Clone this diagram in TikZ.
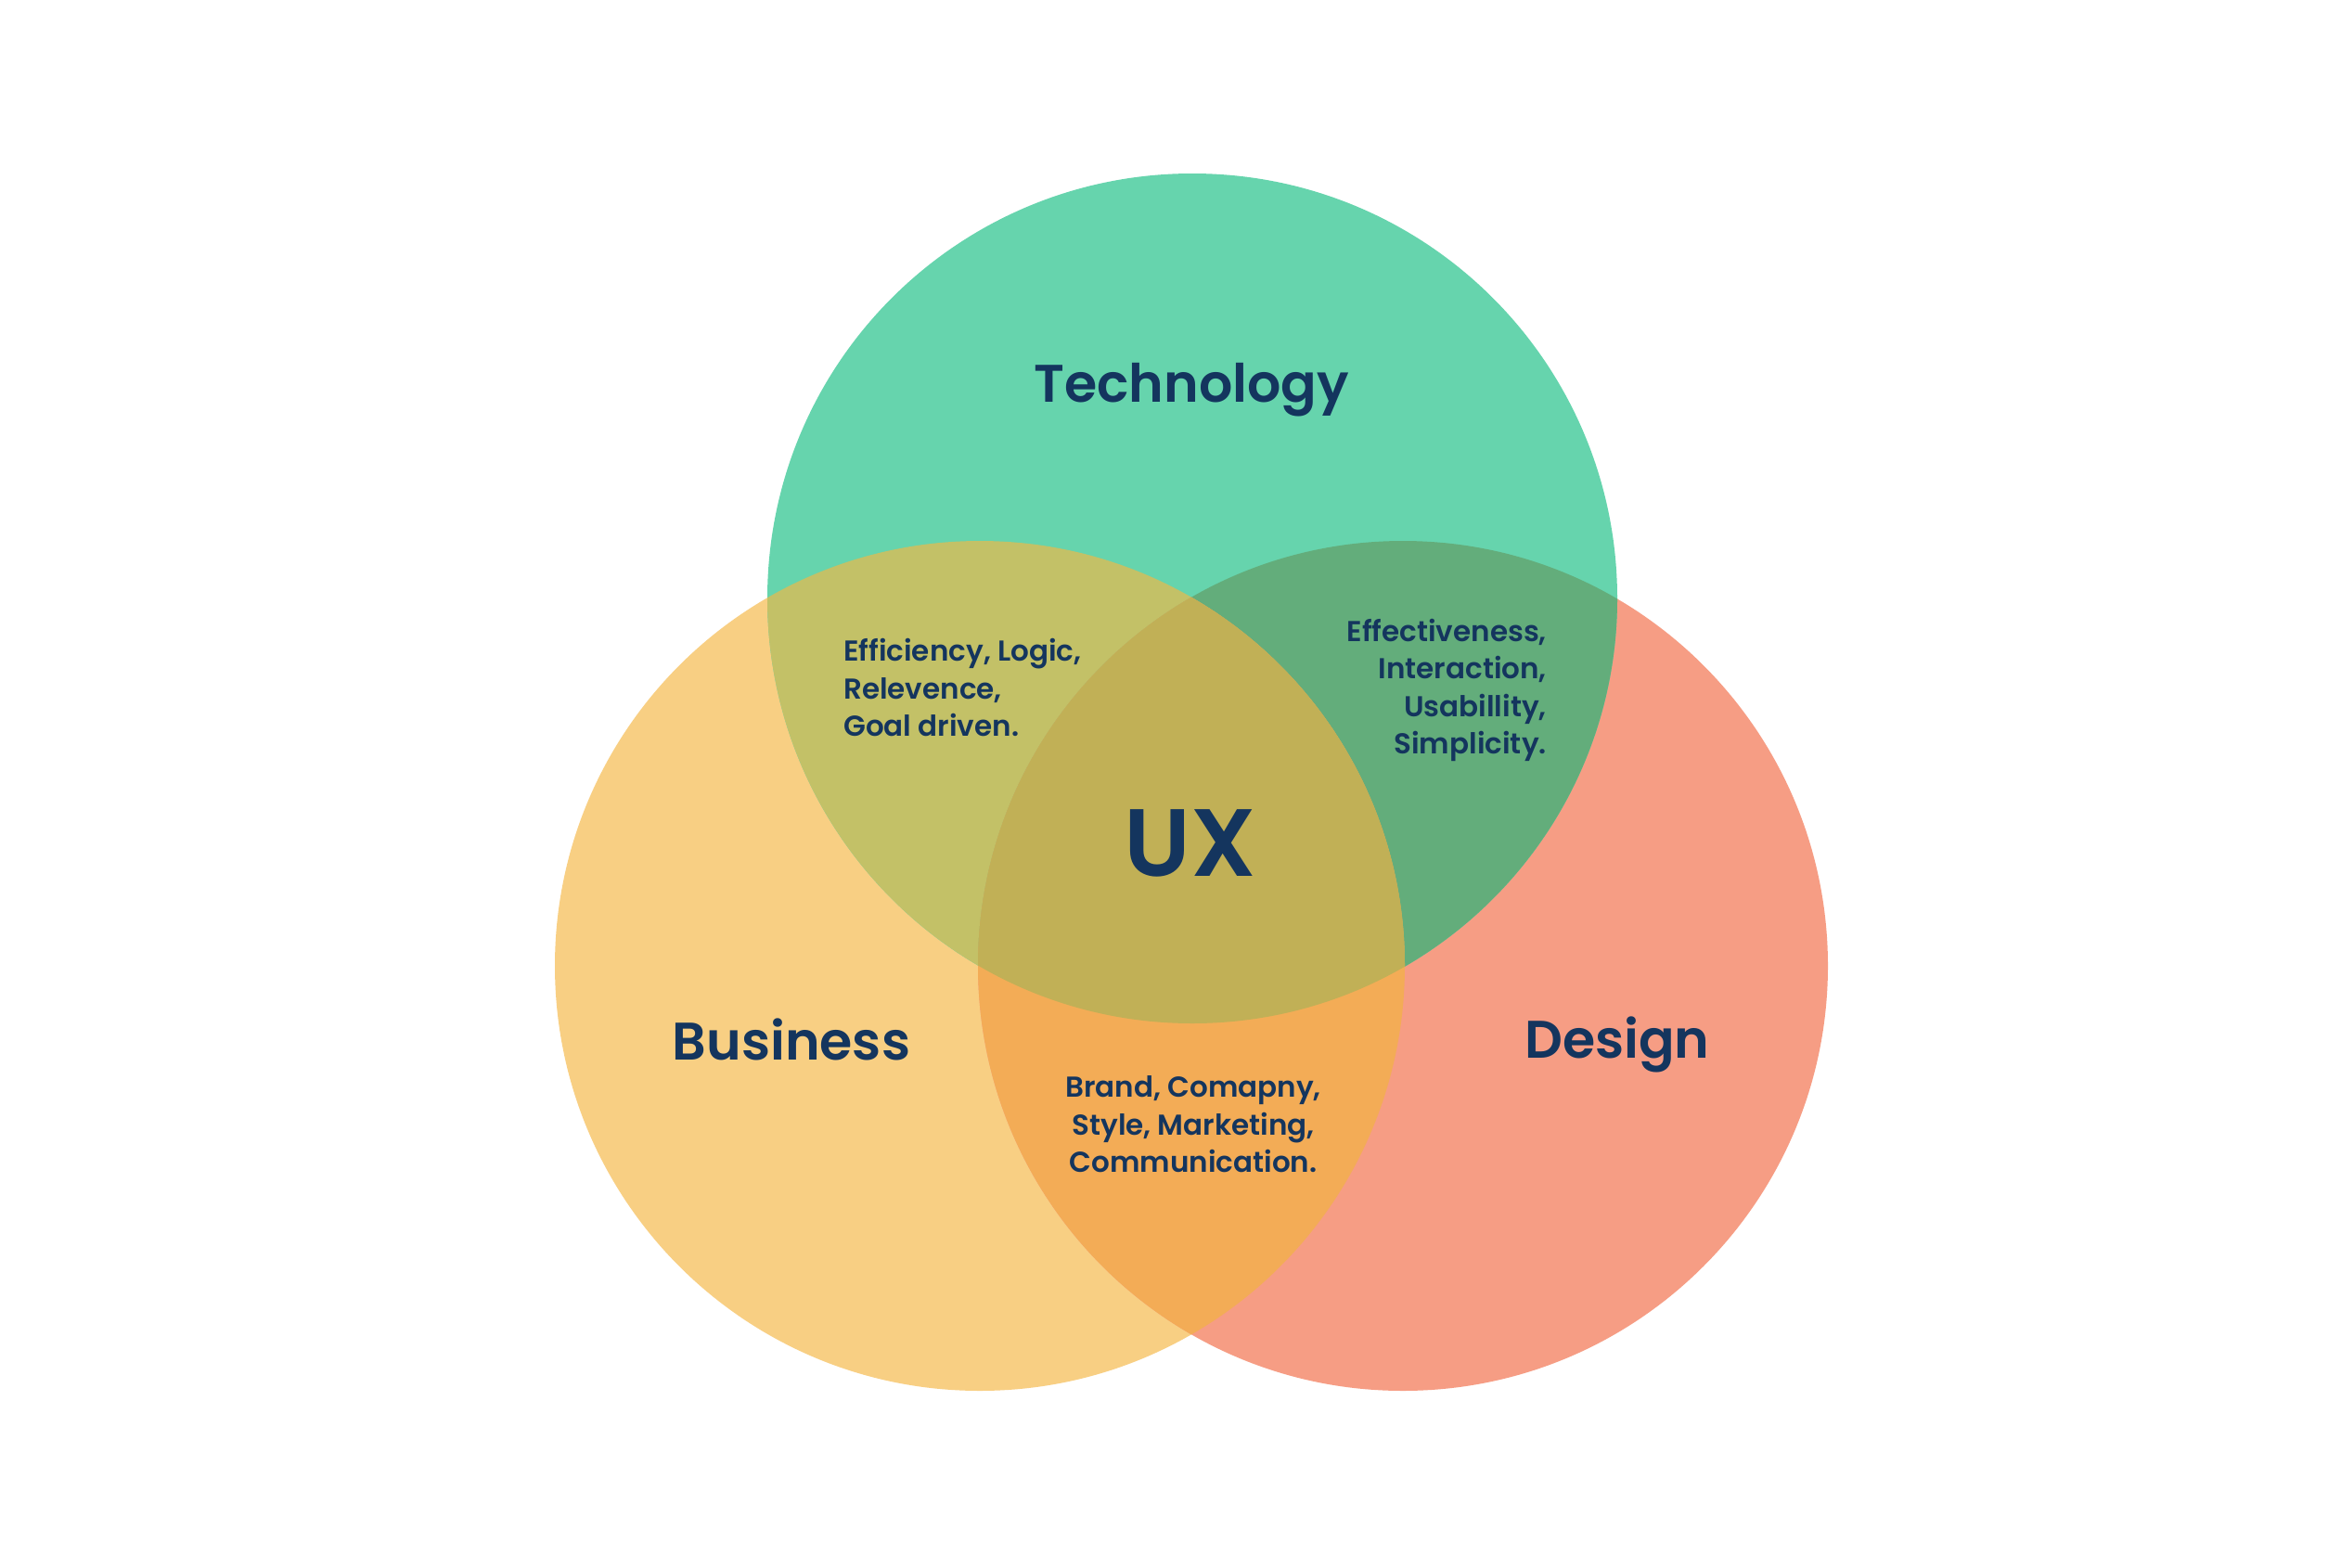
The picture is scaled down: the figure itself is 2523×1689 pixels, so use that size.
\documentclass[tikz,border=0pt]{standalone}
\usepackage{fontspec}
\setmainfont{Poppins}[UprightFont={* SemiBold},BoldFont={* Bold}]
\definecolor{tech}{HTML}{66D4AD}
\definecolor{biz}{HTML}{F8CF83}
\definecolor{des}{HTML}{F69D84}
\definecolor{tb}{HTML}{C3C167}
\definecolor{td}{HTML}{63AD7B}
\definecolor{bd}{HTML}{F3AC56}
\definecolor{tbd}{HTML}{C1B056}
\definecolor{navy}{HTML}{14355E}
\tikzset{
  title/.style={text=navy, font=\fontsize{57}{68}\selectfont, inner sep=0pt},
  small/.style={text=navy, font=\fontsize{31}{40.5}\selectfont, inner sep=0pt},
}
\begin{document}
\begin{tikzpicture}[x=1pt,y=-1pt]
\useasboundingbox (0,0) rectangle (2523,1689);
\fill[white] (0,0) rectangle (2523,1689);
\coordinate (T) at (1285,645);
\coordinate (B) at (1056,1041);
\coordinate (D) at (1512,1041);
\def\rr{458pt}
\fill[biz] (B) circle (\rr);
\fill[des] (D) circle (\rr);
\fill[tech] (T) circle (\rr);
\begin{scope}\clip (B) circle (\rr); \fill[tb] (T) circle (\rr); \end{scope}
\begin{scope}\clip (D) circle (\rr); \fill[td] (T) circle (\rr); \end{scope}
\begin{scope}\clip (B) circle (\rr); \fill[bd] (D) circle (\rr); \end{scope}
\begin{scope}\clip (B) circle (\rr); \clip (D) circle (\rr); \fill[tbd] (T) circle (\rr); \end{scope}
\node[title] (tl) at (1284,420) {Technology};
\node[title] (bl) at (853,1120) {Business};
\node[title] (dl) at (1743,1126) {Design};
\node[text=navy, font=\fontsize{103}{110}\selectfont, inner sep=0pt] (ux) at (1283,909) {UX};
\node[small, align=left, anchor=west] (tbt) at (909,741) {Efficiency, Logic,\\Relevence,\\Goal driven.};
\node[small, align=right, anchor=east] (tdt) at (1667,744) {Effectiveness,\\Interaction,\\Usabillity,\\Simplicity.};
\node[small, align=center] (bdt) at (1286,1212) {Brand, Comapny,\\Style, Marketing,\\Communication.};
\end{tikzpicture}
\end{document}
